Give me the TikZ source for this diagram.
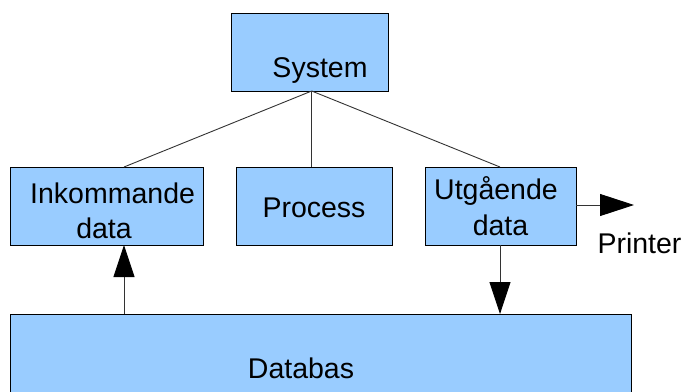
\documentclass[tikz,border=0pt]{standalone}
\usepackage{fontspec}
\setmainfont{Liberation Sans}
\usetikzlibrary{arrows.meta}
\definecolor{boxblue}{HTML}{99CCFF}
\begin{document}
\begin{tikzpicture}[x=1pt,y=-1pt,
  blockbox/.style={draw=black,fill=boxblue,line width=0.9pt},
  label/.style={anchor=base,inner sep=0pt,font=\fontsize{28.5}{34}\selectfont},
  link/.style={draw=black!80,line width=0.9pt},
  bigtip/.style={-{Triangle[length=32pt,width=21pt,fill=black,color=black]}}]
\clip (0,0) rectangle (682,391);
\fill[white] (0,0) rectangle (682,391);
% boxes
\path[blockbox] (231,13) rectangle (388,91);
\node[minimum width=157pt,minimum height=78pt,inner sep=0pt] (sys) at (309.5,52) {};
\path[blockbox] (10,167) rectangle (203,245);
\node[minimum width=193pt,minimum height=78pt,inner sep=0pt] (in) at (106.5,206) {};
\path[blockbox] (236,167) rectangle (392,245);
\node[minimum width=156pt,minimum height=78pt,inner sep=0pt] (proc) at (314,206) {};
\path[blockbox] (425,167) rectangle (576,245);
\node[minimum width=151pt,minimum height=78pt,inner sep=0pt] (out) at (500.5,206) {};
\path[blockbox] (10,314) rectangle (631,400);
\node[minimum width=621pt,minimum height=86pt,inner sep=0pt] (db) at (320.5,357) {};
% texts
\node[label] at (320,77) {System};
\node[label] at (112.6,203) {Inkommande};
\node[label] at (104,238) {data};
\node[label] at (314,217) {Process};
\node[label] at (496,199) {Utgående};
\node[label] at (500.5,235) {data};
\node[label] at (301,378) {Databas};
\node[label] (prn) at (639.5,253) {Printer};
% tree links
\coordinate (sysb) at (311.7,91);
\draw[link] (sysb) -- (124,167);
\draw[link] (sysb) -- (311.7,167);
\draw[link] (sysb) -- (500,167);
% data flow arrows
\coordinate (dbl) at (124,314);
\coordinate (inb) at (124,245);
\draw[link,bigtip] (dbl) -- (inb);
\coordinate (outb) at (500,245);
\coordinate (dbr) at (500,314);
\draw[link,bigtip] (outb) -- (dbr);
\coordinate (outr) at (576,205);
\coordinate (prnend) at (634,205);
\draw[link,-{Triangle[length=34pt,width=22pt,fill=black,color=black]}] (outr) -- (prnend);
\end{tikzpicture}
\end{document}
